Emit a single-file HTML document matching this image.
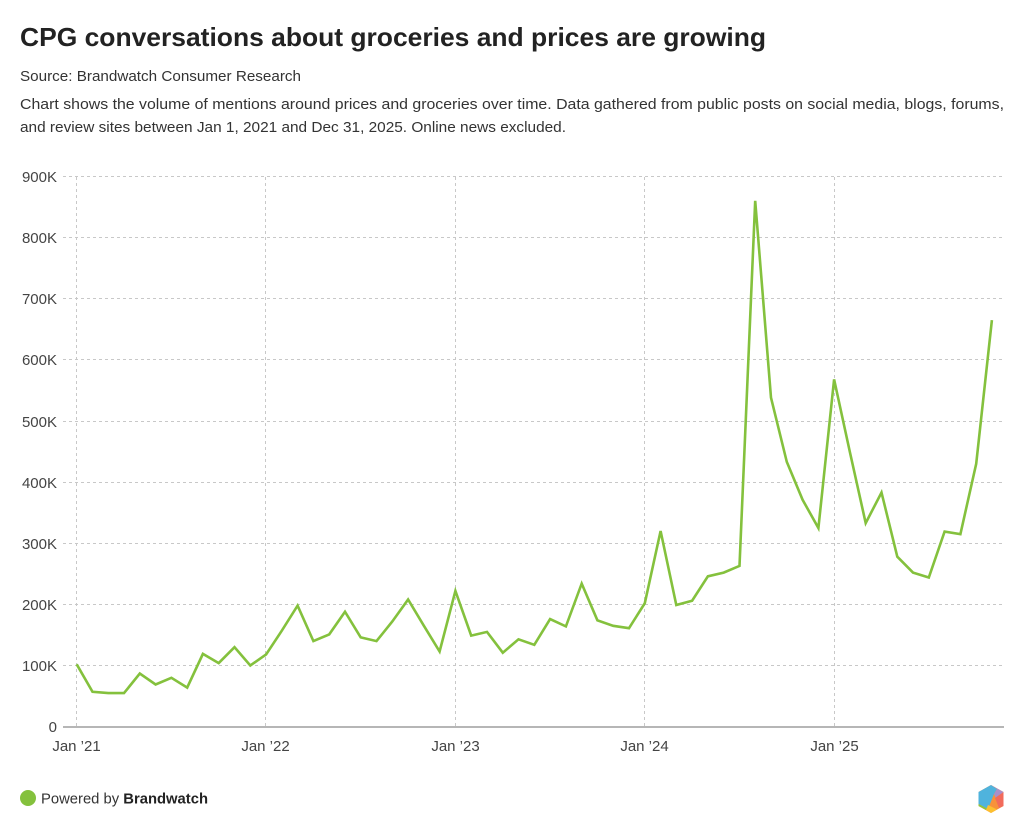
<!DOCTYPE html>
<html><head><meta charset="utf-8"><style>
html,body{margin:0;padding:0;background:#fff;}
svg{display:block;font-family:"Liberation Sans",sans-serif;}
</style></head><body>
<svg width="1024" height="833" viewBox="0 0 1024 833" xmlns="http://www.w3.org/2000/svg">
<rect width="1024" height="833" fill="#fff"/>
<text x="20" y="46" font-size="26" font-weight="bold" fill="#222" textLength="746" lengthAdjust="spacingAndGlyphs">CPG conversations about groceries and prices are growing</text>
<text x="20" y="81" font-size="15" fill="#333" textLength="281" lengthAdjust="spacingAndGlyphs">Source: Brandwatch Consumer Research</text>
<text x="20" y="109" font-size="15" fill="#333" textLength="984" lengthAdjust="spacingAndGlyphs">Chart shows the volume of mentions around prices and groceries over time. Data gathered from public posts on social media, blogs, forums,</text>
<text x="20" y="132" font-size="15" fill="#333" textLength="546" lengthAdjust="spacingAndGlyphs">and review sites between Jan 1, 2021 and Dec 31, 2025. Online news excluded.</text>

<g stroke="#c8c8c8" stroke-width="1" stroke-dasharray="3,3" fill="none">
<line x1="63" x2="1004" y1="665.5" y2="665.5"/>
<line x1="63" x2="1004" y1="604.5" y2="604.5"/>
<line x1="63" x2="1004" y1="543.5" y2="543.5"/>
<line x1="63" x2="1004" y1="482.5" y2="482.5"/>
<line x1="63" x2="1004" y1="421.5" y2="421.5"/>
<line x1="63" x2="1004" y1="359.5" y2="359.5"/>
<line x1="63" x2="1004" y1="298.5" y2="298.5"/>
<line x1="63" x2="1004" y1="237.5" y2="237.5"/>
<line x1="63" x2="1004" y1="176.5" y2="176.5"/>
<line x1="76.5" x2="76.5" y1="177" y2="727"/>
<line x1="265.5" x2="265.5" y1="177" y2="727"/>
<line x1="455.5" x2="455.5" y1="177" y2="727"/>
<line x1="644.5" x2="644.5" y1="177" y2="727"/>
<line x1="834.5" x2="834.5" y1="177" y2="727"/>
</g>
<line x1="63" x2="1004" y1="727" y2="727" stroke="#8a8a8a" stroke-width="1.2"/>

<g font-size="15" fill="#444" text-anchor="end">
<text x="57" y="732">0</text>
<text x="57" y="671">100K</text>
<text x="57" y="610">200K</text>
<text x="57" y="549">300K</text>
<text x="57" y="488">400K</text>
<text x="57" y="427">500K</text>
<text x="57" y="365">600K</text>
<text x="57" y="304">700K</text>
<text x="57" y="243">800K</text>
<text x="57" y="182">900K</text>
</g>
<g font-size="15" fill="#444" text-anchor="middle">
<text x="76.5" y="751">Jan ’21</text>
<text x="265.5" y="751">Jan ’22</text>
<text x="455.5" y="751">Jan ’23</text>
<text x="644.5" y="751">Jan ’24</text>
<text x="834.5" y="751">Jan ’25</text>
</g>

<polyline fill="none" stroke="#84c13d" stroke-width="2.6" stroke-linejoin="miter" stroke-linecap="butt" points="76.7,664.3 92.5,691.8 108.3,693.1 124.0,693.1 139.8,673.5 155.6,684.5 171.4,677.8 187.2,687.6 202.9,653.9 218.7,663.1 234.5,647.2 250.3,665.5 266.1,654.5 281.8,630.7 297.6,605.6 313.4,641.1 329.2,634.4 345.0,611.7 360.7,637.4 376.5,641.1 392.3,621.5 408.1,599.5 423.9,625.8 439.6,651.5 455.4,590.9 471.2,635.6 487.0,631.9 502.8,652.7 518.5,639.3 534.3,644.8 550.1,619.1 565.9,626.4 581.7,583.6 597.4,620.3 613.2,625.8 629.0,628.2 644.8,603.2 660.6,531.0 676.3,605.0 692.1,600.7 707.9,576.3 723.7,572.6 739.5,565.9 755.2,200.8 771.0,397.7 786.8,461.9 802.6,499.8 818.4,528.0 834.1,379.4 849.9,452.1 865.7,523.1 881.5,492.5 897.3,556.7 913.0,572.6 928.8,577.5 944.6,531.6 960.4,534.1 976.2,463.8 991.9,320.1"/>

<circle cx="28" cy="798" r="8" fill="#84c13d"/>
<text x="41" y="803.5" font-size="15" fill="#333" textLength="167" lengthAdjust="spacingAndGlyphs">Powered by <tspan font-weight="bold" fill="#222">Brandwatch</tspan></text>

<g transform="translate(991,799)">
<polygon points="0,-14 12.5,-7 12.5,7 0,14 -12.5,7 -12.5,-7" fill="#f7923a"/>
<polygon points="0,-14 -12.5,-7 -12.5,5 -3,10 3,-5 6,-10" fill="#4fb3dd"/>
<polygon points="0,-14 12.5,-7 6,2 3,-5 6,-10" fill="#a98fc9"/>
<polygon points="12.5,-7 12.5,7 8,9 4,-1" fill="#f26b5b"/>
<polygon points="-12.5,5 -12.5,7 -5,11 -3,10" fill="#8dc63f"/>
<polygon points="-5,11 0,14 6,10.5 -3,6" fill="#fdc02f"/>
</g>
</svg>
</body></html>
